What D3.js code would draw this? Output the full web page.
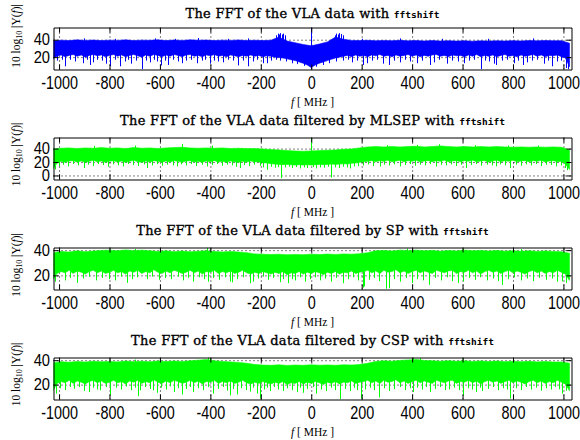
<!DOCTYPE html>
<html>
<head>
<meta charset="utf-8">
<script src="https://cdn.jsdelivr.net/npm/d3@7"></script>
<style>
  body { margin: 0; background: #fff; }
  svg { display: block; }
</style>
</head>
<body>
<svg id="fig" width="580" height="440"></svg>
<script>
// ---------------------------------------------------------------
// Spectra of the VLA record (dB), shown as the band of |Y(f)| per
// frequency bin: the top of the band on a 32 MHz grid, the bottom
// of the band on a 16 MHz grid, plus isolated spikes below/above it.
// ---------------------------------------------------------------
const freqLimits = [-1022, 1032];
const xTickValues = [-1000, -800, -600, -400, -200, 0, 200, 400, 600, 800, 1000];
const gridStart = -1024;
const hiStep = 32;
const loStep = 16;

const titleLead = "The FFT of the VLA data";
const titleMethods = [null, "MLSEP", "SP", "CSP"];
const titleTool = "fftshift";

// --- raw VLA data ---
const vlaYLimits = [5.8, 54];
const vlaYTicks = [20, 40];
const vlaHi = [
  38.5, 39.5, 39, 39.8, 39.2, 39.6, 39, 39.5, 39.2, 39.8, 39, 39.5, 39.3, 39.8, 39, 39.6,
  39.2, 39.8, 39.4, 39.6, 39, 39.5, 39.2, 39.7, 39, 39.4, 39, 39.4, 43, 38.5, 36.5, 34.5,
  33, 35, 37.5, 43, 40.5, 39.2, 39, 39.3, 38.8, 39.2, 38.9, 39.3, 38.7, 39, 38.6, 39,
  38.5, 38.9, 38.4, 38.8, 38.3, 38.7, 38.4, 38.8, 38.5, 38.9, 38.6, 39, 38.7, 39.1, 38.8, 38.9,
  36
];
const vlaLo = [
  18, 21, 22.5, 20.5, 22, 23, 21, 22.5, 20, 22, 23, 21.5, 22.5, 20.5, 22, 23,
  21, 22.5, 20.5, 22, 23, 21.5, 20, 22.5, 21, 23, 22, 20.5, 22.5, 21, 23, 22,
  20.5, 22.5, 23, 21, 22, 20.5, 22.5, 21.5, 23, 21, 22, 20.5, 22.5, 21.5, 20.5, 22,
  21, 22.5, 21, 22, 20.5, 21.5, 21, 20, 19.5, 19, 18, 17, 16, 14.5, 13, 11,
  8, 11, 13, 14.5, 16, 17.5, 19, 20, 21, 22, 20.5, 22.5, 21, 22, 20.5, 22.5,
  21.5, 23, 21, 22, 20.5, 22.5, 21, 22, 23, 21, 22.5, 20.5, 22, 21, 22.5, 23,
  21, 22, 20.5, 22.5, 21.5, 22, 20.5, 22.5, 21, 23, 20.5, 22, 21, 22.5, 20.5, 22,
  23, 21, 22, 20.5, 22.5, 21, 22, 23, 21, 22.5, 20.5, 22, 21.5, 22.5, 20.5, 19,
  9
];
const vlaDips = [
  [-1010, 16], [-990, 17], [-975, 9.5], [-955, 17], [-935, 15], [-906, 13], [-890, 17], [-876, 11],
  [-866, 14], [-850, 17], [-830, 16], [-813, 12.5], [-797, 9.5], [-780, 17], [-757, 9.5], [-740, 15],
  [-725, 17], [-714, 12.5], [-695, 16], [-671, 6], [-655, 16], [-641, 14], [-625, 17], [-610, 15],
  [-595, 10.5], [-580, 16], [-566, 11], [-550, 17], [-530, 15], [-513, 13], [-495, 16], [-475, 17],
  [-454, 13], [-435, 16], [-420, 17], [-403, 12.5], [-385, 16], [-370, 15], [-350, 14], [-330, 17],
  [-310, 16], [-290, 10.5], [-270, 16], [-250, 9.5], [-232, 15], [-215, 17], [-191, 13], [-177, 13],
  [-160, 16], [-140, 17], [-122, 16], [-100, 15], [-75, 13], [-55, 12], [-30, 10], [0, 5.8],
  [20, 9], [45, 11], [70, 13], [100, 15], [125, 16], [145, 17], [160, 14], [180, 16],
  [205, 11], [220, 13], [240, 16], [260, 17], [286, 12.5], [310, 11], [330, 16], [352, 14],
  [370, 17], [390, 15], [419, 13], [440, 16], [469, 11], [485, 14], [505, 17], [538, 12.5],
  [560, 16], [580, 15], [604, 13], [625, 16], [645, 17], [673, 6], [690, 16], [705, 15],
  [723, 12.5], [732, 11], [755, 16], [775, 17], [803, 13], [820, 16], [838, 11], [856, 14],
  [875, 16], [895, 17], [922, 12.5], [940, 16], [956, 9.5], [975, 15], [990, 16], [1009, 7.5],
  [1018, 6]
];
const vlaPeaks = [
  [-138, 45], [-133, 47], [-128, 46], [-122, 47.5], [-116, 46], [-110, 47], [-105, 45],
  [94, 45], [100, 47], [106, 46], [112, 47.5], [118, 46.5], [124, 45], [0, 54],
  [-900, 41.5], [-780, 41], [-620, 41.5], [-540, 41], [-450, 42], [-330, 41], [-250, 41.5],
  [200, 41], [350, 41.5], [520, 41], [700, 41], [880, 41.5]
];

// --- filtered by MLSEP ---
const mlsepYLimits = [-6, 56.5];
const mlsepYTicks = [0, 20, 40];
const mlsepHi = [
  39.5, 40.5, 41, 40, 41, 40.5, 41.5, 40.5, 41, 40, 41.5, 40.5, 41, 40, 41, 41.5,
  42, 41, 40.5, 41, 40.5, 41, 40, 40.5, 40, 40, 39.5, 38.5, 38, 37, 36.5, 36,
  36.5, 37, 37.5, 38, 39, 39.5, 41, 42.5, 43, 42.5, 43, 42.5, 43, 43.5, 42.5, 43,
  44, 43, 42.5, 43, 42.5, 43, 42.5, 43, 42.5, 42, 42.5, 42, 42.5, 42, 42.5, 42,
  38
];
const mlsepLo = [
  10, 18, 21, 19.5, 21.5, 22, 20, 21.5, 19.5, 21, 22.5, 20.5, 21.5, 19.5, 21, 22,
  20, 21.5, 19.5, 21, 22.5, 20.5, 19.5, 21.5, 20, 22, 21, 19.5, 21.5, 20, 22, 21,
  19.5, 21.5, 22, 20, 21, 19.5, 21.5, 20.5, 22, 20, 21, 19.5, 21.5, 20.5, 19.5, 21,
  20, 21.5, 20.5, 20, 19, 18.5, 17.5, 17, 16.5, 16, 16.5, 16, 15.5, 16, 15.5, 16,
  15.5, 16, 16.5, 16, 16.5, 17, 16.5, 17, 17.5, 17, 18, 18.5, 19.5, 20.5, 21, 22,
  20.5, 22, 21, 22.5, 20.5, 21.5, 22.5, 20.5, 22, 21, 22.5, 20, 21.5, 22, 20.5, 22,
  21, 22.5, 20.5, 21.5, 22, 20.5, 22, 21, 22.5, 20.5, 21.5, 22, 20, 21.5, 22.5, 20.5,
  22, 21, 22.5, 20.5, 21.5, 22, 20.5, 22, 21, 22.5, 20, 21.5, 22, 20.5, 21, 17,
  9
];
const mlsepDips = [
  [-1018, 9], [-1000, 14], [-985, 16], [-965, 13.5], [-945, 17], [-925, 15], [-903, 11], [-885, 16],
  [-865, 14], [-845, 17], [-825, 15.5], [-805, 13], [-785, 16.5], [-765, 15], [-745, 13.5], [-725, 17],
  [-705, 15.5], [-685, 14], [-665, 16.5], [-651, 11], [-630, 15], [-610, 17], [-590, 14.5], [-570, 16],
  [-550, 15], [-533, 13.5], [-515, 16.5], [-495, 15], [-475, 17], [-455, 14], [-435, 16], [-414, 13.5],
  [-395, 15.5], [-375, 17], [-355, 14.5], [-335, 16], [-315, 15], [-298, 13], [-283, 11], [-265, 15.5],
  [-245, 14], [-225, 16], [-205, 14.5], [-190, 12], [-177, 8.5], [-160, 13], [-145, 11.5], [-130, 12.5],
  [-119, -4], [-105, 12], [-90, 13], [-75, 11], [-60, 12.5], [-45, 10.5], [-30, 12], [-15, 11],
  [5, 12.5], [20, 10.5], [35, 12], [50, 11.5], [65, 13], [78, -3], [95, 12], [110, 11],
  [125, 13], [140, 12], [155, 10.5], [170, 13.5], [185, 14], [205, 15], [225, 16.5], [245, 14],
  [271, 13.5], [290, 16], [310, 15], [330, 16.5], [350, 13.5], [370, 15.5], [390, 17], [410, 14.5],
  [430, 16], [450, 15], [470, 17], [494, 13.5], [515, 16], [535, 15], [555, 16.5], [575, 14],
  [595, 16], [614, 11], [635, 15.5], [655, 17], [675, 14.5], [695, 16], [715, 15], [732, 13.5],
  [750, 16.5], [770, 15], [790, 11], [810, 16], [830, 14.5], [850, 16.5], [870, 15], [890, 17],
  [910, 14], [930, 16], [950, 15.5], [970, 13.5], [990, 15], [1005, 11], [1015, 8]
];
const mlsepPeaks = [
  [0, 56.5], [-513, 47], [-700, 44.5], [-395, 44.5], [-860, 44], [300, 45], [420, 45.5],
  [508, 46.5], [650, 45], [780, 44.5], [900, 44.5]
];

// --- filtered by SP ---
const spYLimits = [8.8, 42.1];
const spYTicks = [20, 40];
const spHi = [
  38, 39, 38.5, 39.5, 38.8, 39.3, 39.8, 40, 39.5, 40.2, 39.6, 40, 39.5, 39, 39.5, 38.8,
  39.3, 38.7, 39.2, 39.5, 39, 38.6, 39, 38.5, 38, 37, 36.8, 36.5, 36.8, 36.3, 36.6, 36.4,
  36.8, 36.5, 36.9, 36.6, 37, 36.8, 37.2, 38, 39.5, 39.8, 39.3, 40, 39.6, 40, 39.5, 39.8,
  39.2, 39.7, 39.4, 40, 39.5, 39.8, 39.3, 39.7, 39.2, 39.6, 39.1, 39.5, 39, 39.4, 39, 38.8,
  37.5
];
const spLo = [
  17, 21.5, 23, 22, 24, 21.5, 23.5, 22.5, 21, 23, 24, 22, 23.5, 21.5, 22.5, 24,
  22, 23, 21, 23.5, 22.5, 24, 21.5, 23, 22, 24.5, 22.5, 21.5, 23.5, 22, 24, 23,
  21.5, 22.5, 24, 22, 23.5, 21, 23, 22.5, 24, 21.5, 23, 22, 23.5, 21.5, 22.5, 24,
  22, 21, 22.5, 21.5, 23, 22, 21, 22.5, 21.5, 23, 20.5, 22, 21.5, 23, 21, 22.5,
  21.5, 23, 22, 20.5, 22.5, 21.5, 23, 21, 22.5, 22, 23.5, 21.5, 22.5, 23, 24, 22,
  23.5, 21.5, 24, 22.5, 23, 24.5, 22, 23.5, 21.5, 23, 24, 22, 23.5, 22.5, 21.5, 24,
  23, 22, 23.5, 24, 21.5, 23, 22.5, 24, 22, 23.5, 21, 23, 24, 22.5, 23.5, 21.5,
  23, 24, 22, 23.5, 22.5, 21, 23, 24, 22, 23.5, 21.5, 23, 22, 24, 22.5, 21,
  16
];
const spDips = [
  [-1015, 15], [-975, 16], [-955, 18], [-930, 14], [-905, 17.5], [-880, 19], [-855, 16], [-830, 18],
  [-800, 17], [-777, 16], [-755, 19], [-731, 14], [-710, 17], [-690, 18.5], [-652, 17], [-630, 19],
  [-605, 16.5], [-580, 18], [-555, 17], [-530, 19], [-508, 16], [-490, 18], [-468, 15], [-445, 18.5],
  [-425, 17], [-409, 15], [-390, 18], [-365, 16.5], [-340, 18.5], [-322, 15], [-316, 14.5], [-295, 17],
  [-270, 18.5], [-243, 13.8], [-231, 15], [-210, 17.5], [-190, 19], [-170, 16.5], [-150, 18], [-125, 14.6],
  [-110, 17], [-93, 13.8], [-75, 17], [-65, 16], [-45, 18.5], [-25, 15], [-5, 17], [15, 18.5],
  [35, 16], [55, 17.5], [80, 15], [100, 18], [125, 13.8], [145, 17], [165, 18.5], [185, 16],
  [204, 10.4], [211, 11.2], [230, 16.5], [250, 18], [270, 15.5], [297, 9.4], [310, 9.9], [330, 17],
  [350, 15], [375, 18], [400, 13.9], [420, 17], [445, 16], [468, 12.5], [490, 18], [515, 16],
  [540, 18.5], [560, 15.5], [580, 14], [600, 15.2], [625, 18], [650, 16.5], [670, 18.5], [695, 16],
  [720, 17.5], [740, 15.5], [758, 12.5], [780, 17], [805, 18.5], [830, 16], [855, 17.5], [880, 15.5],
  [905, 18], [930, 16.5], [955, 17.5], [975, 15], [995, 15.2], [1012, 14]
];
const spPeaks = [
  [-412, 42.1], [-700, 41], [380, 41.2], [600, 41], [830, 40.8]
];

// --- filtered by CSP ---
const cspYLimits = [7.8, 42.2];
const cspYTicks = [20, 40];
const cspHi = [
  38, 38.8, 38.3, 39, 38.5, 39.2, 38.7, 39, 38.6, 39.3, 38.8, 39.2, 38.7, 39.4, 38.9, 39.3,
  39, 39.5, 40, 40.5, 39.5, 39, 38.6, 38.2, 37.5, 36.5, 36, 35.8, 36.2, 35.7, 36, 35.8,
  36.2, 35.9, 36.1, 35.8, 36.2, 36, 36.5, 37.5, 39, 39.5, 39.2, 39.8, 40.2, 40.5, 39.8, 39.5,
  39.2, 39.6, 39.1, 39.5, 39, 39.4, 38.9, 39.3, 38.8, 39.2, 38.7, 39.1, 38.6, 39, 38.5, 38.6,
  37.5
];
const cspLo = [
  15, 21, 22.5, 21.5, 23.5, 21, 23, 22, 20.5, 22.5, 23.5, 21.5, 23, 21, 22, 23.5,
  21.5, 22.5, 20.5, 23, 22, 23.5, 21, 22.5, 21.5, 24, 22, 21, 23, 21.5, 23.5, 22.5,
  21, 22, 23.5, 21.5, 23, 20.5, 22.5, 22, 23.5, 21, 22.5, 21.5, 23, 21, 22, 23.5,
  21.5, 20.5, 22, 21, 22.5, 21.5, 20.5, 22, 21, 22.5, 20, 21.5, 21, 22.5, 20.5, 22,
  21, 22.5, 21.5, 20, 22, 21, 22.5, 20.5, 22, 21.5, 23, 21, 22, 22.5, 23.5, 21.5,
  23, 21, 23.5, 22, 22.5, 24, 21.5, 23, 21, 22.5, 23.5, 21.5, 23, 22, 21, 23.5,
  22.5, 21.5, 23, 23.5, 21, 22.5, 22, 23.5, 21.5, 23, 20.5, 22.5, 23.5, 22, 23, 21,
  22.5, 23.5, 21.5, 23, 22, 20.5, 22.5, 23.5, 21.5, 23, 21, 22.5, 21.5, 23.5, 22, 20.5,
  15
];
const cspDips = [
  [-1014, 12.6], [-995, 17], [-975, 15.5], [-958, 18], [-942, 16.7], [-920, 18], [-902, 14.7], [-882, 13.9],
  [-865, 17.5], [-849, 16.1], [-836, 15.3], [-815, 18], [-797, 11.2], [-775, 17.5], [-755, 16], [-735, 18.5],
  [-715, 15.5], [-698, 17.5], [-685, 10.5], [-678, 15.3], [-660, 18], [-640, 16.5], [-626, 15.3], [-612, 13.3],
  [-595, 17.5], [-575, 16], [-560, 18.5], [-546, 13.9], [-530, 17], [-513, 11.9], [-495, 16.5], [-480, 18],
  [-467, 13.9], [-450, 17], [-430, 15.5], [-410, 18], [-388, 12.6], [-370, 16.5], [-350, 18], [-335, 15],
  [-322, 11.2], [-310, 16.5], [-296, 11.9], [-280, 17], [-260, 15.5], [-243, 14.2], [-230, 17.5], [-217, 12.6],
  [-204, 8.5], [-188, 16], [-175, 17.5], [-164, 14.7], [-148, 18], [-130, 16], [-111, 14.7], [-95, 17],
  [-78, 15.5], [-58, 13.9], [-45, 17.5], [-32, 13.3], [-15, 16.5], [5, 18], [20, 12.6], [38, 16],
  [60, 14.7], [78, 17.5], [95, 15.5], [116, 8], [135, 16.5], [152, 14.7], [170, 17.5], [183, 15.5],
  [196, 8.5], [215, 16], [232, 17.5], [250, 15.5], [268, 9.5], [290, 17], [310, 14.7], [330, 16.5],
  [350, 18], [370, 15.5], [390, 17], [403, 13.9], [420, 17.5], [440, 16], [455, 18], [469, 13.9],
  [490, 16.5], [510, 18], [530, 15.5], [548, 16.1], [565, 17.5], [585, 15.5], [600, 11.2], [620, 17],
  [638, 16], [653, 13.9], [668, 17.5], [679, 14.7], [700, 16.5], [720, 18], [740, 15.5], [760, 17],
  [775, 16], [790, 8.5], [810, 17], [830, 15.5], [850, 18], [870, 16], [890, 17.5], [910, 15],
  [930, 17], [950, 16], [968, 18], [983, 16.1], [996, 12.6], [1012, 15]
];
const cspPeaks = [
  [-410, 42.2], [-400, 41.5], [405, 42.2], [430, 41.5], [-700, 40.5], [600, 40.8]
];

// ---------------------------------------------------------------
const panels = [
  { yLimits: vlaYLimits, yTicks: vlaYTicks, hi: vlaHi, lo: vlaLo, dips: vlaDips, peaks: vlaPeaks, color: "#0000ff" },
  { yLimits: mlsepYLimits, yTicks: mlsepYTicks, hi: mlsepHi, lo: mlsepLo, dips: mlsepDips, peaks: mlsepPeaks, color: "#00ff00" },
  { yLimits: spYLimits, yTicks: spYTicks, hi: spHi, lo: spLo, dips: spDips, peaks: spPeaks, color: "#00ff00" },
  { yLimits: cspYLimits, yTicks: cspYTicks, hi: cspHi, lo: cspLo, dips: cspDips, peaks: cspPeaks, color: "#00ff00" }
];

const plotLeft = 53.5, plotRight = 571.5, plotHeight = 42;
const panelTops = [27.5, 137.5, 247.5, 357.5];
const titleBaselines = [18.3, 125, 235, 345];
const yLabelShift = [-12.5, -4, -3.5, -4];
const serif = "'DejaVu Serif', 'Liberation Serif', serif";
const tickFont = "'Liberation Sans', Arial, sans-serif";

const svg = d3.select("#fig");
const x = d3.scaleLinear().domain(freqLimits).range([plotLeft, plotRight]);
const px = f => Math.round(x(f)) + 0.5;

panels.forEach((p, k) => {
  const top = panelTops[k];
  const bottom = top + plotHeight;
  const y = d3.scaleLinear().domain(p.yLimits).range([bottom, top]);
  const g = svg.append("g");

  const clipId = "clip" + k;
  g.append("clipPath").attr("id", clipId)
    .append("rect").attr("x", plotLeft).attr("y", top)
    .attr("width", plotRight - plotLeft).attr("height", plotHeight);

  // dotted grid
  const gridStyle = sel => {
    sel.select(".domain").remove();
    sel.selectAll("line").attr("stroke", "#000").attr("stroke-dasharray", "1,3");
  };
  g.append("g").attr("transform", `translate(0,${bottom})`)
    .call(d3.axisBottom(x).tickValues(xTickValues).tickSize(-plotHeight).tickFormat(""))
    .call(gridStyle);
  g.append("g").attr("transform", `translate(${plotLeft},0)`)
    .call(d3.axisLeft(y).tickValues(p.yTicks).tickSize(-(plotRight - plotLeft)).tickFormat(""))
    .call(gridStyle);

  // spectrum band
  const hiPts = p.hi.map((v, i) => [gridStart + i * hiStep, v]);
  const loPts = p.lo.map((v, i) => [gridStart + i * loStep, v]);
  const hiAt = d3.scaleLinear().domain(hiPts.map(d => d[0])).range(hiPts.map(d => d[1]));
  const loAt = d3.scaleLinear().domain(loPts.map(d => d[0])).range(loPts.map(d => d[1]));
  const outline = hiPts.concat(loPts.slice().reverse());
  const plot = g.append("g").attr("clip-path", `url(#${clipId})`);
  plot.append("path")
    .attr("d", d3.line().x(d => x(d[0])).y(d => y(d[1]))(outline) + "Z")
    .attr("fill", p.color).attr("stroke", p.color).attr("stroke-width", 0.6);

  plot.selectAll("line.dip").data(p.dips).join("line").attr("class", "dip")
    .attr("x1", d => px(d[0])).attr("x2", d => px(d[0]))
    .attr("y1", d => y(loAt(d[0]) + 1.5)).attr("y2", d => y(d[1]))
    .attr("stroke", p.color).attr("stroke-width", 1);
  plot.selectAll("line.peak").data(p.peaks).join("line").attr("class", "peak")
    .attr("x1", d => px(d[0])).attr("x2", d => px(d[0]))
    .attr("y1", d => y(hiAt(d[0]) - 1.5)).attr("y2", d => y(d[1]))
    .attr("stroke", p.color).attr("stroke-width", 1);

  // axes box with inward ticks
  const styleTicks = (size, sx) => sel => {
    sel.selectAll("text").attr("font-family", tickFont).attr("font-size", size)
      .attr("fill", "#000").attr("transform", `scale(${sx},1)`);
  };
  g.append("g").attr("transform", `translate(0,${bottom})`)
    .call(d3.axisBottom(x).tickValues(xTickValues).tickSizeInner(-5).tickSizeOuter(0)
      .tickPadding(6.5).tickFormat(d => String(d)))
    .call(styleTicks(18, 0.8));
  g.append("g").attr("transform", `translate(0,${top})`)
    .call(d3.axisTop(x).tickValues(xTickValues).tickSizeInner(-5).tickSizeOuter(0).tickFormat(""));
  g.append("g").attr("transform", `translate(${plotLeft},0)`)
    .call(d3.axisLeft(y).tickValues(p.yTicks).tickSizeInner(-5).tickSizeOuter(0)
      .tickPadding(3.5).tickFormat(d => String(d)))
    .call(styleTicks(16, 0.92))
    .call(sel => sel.selectAll("text").attr("x", -3.5 / 0.92));
  g.append("g").attr("transform", `translate(${plotRight},0)`)
    .call(d3.axisRight(y).tickValues(p.yTicks).tickSizeInner(-5).tickSizeOuter(0).tickFormat(""));

  // title (regular serif, lightly emboldened with a thin outline)
  const title = svg.append("text")
    .attr("x", (plotLeft + plotRight) / 2).attr("y", titleBaselines[k])
    .attr("text-anchor", "middle").attr("font-family", serif)
    .attr("font-size", 13).attr("letter-spacing", 0.3).attr("fill", "#000")
    .attr("stroke", "#000").attr("stroke-width", 0.35);
  title.append("tspan").text(titleLead);
  if (titleMethods[k]) title.append("tspan").text(" filtered by " + titleMethods[k]);
  title.append("tspan").text(" with ");
  title.append("tspan").attr("font-family", "'DejaVu Sans Mono', 'Liberation Mono', monospace")
    .attr("font-weight", "bold").attr("letter-spacing", 0).attr("stroke-width", 0)
    .attr("font-size", 9.5).text(titleTool);

  // y label: 10 log10 |Y(f)|
  const yl = svg.append("text")
    .attr("transform", `translate(19.5,${(top + bottom) / 2 + yLabelShift[k]}) rotate(-90)`)
    .attr("text-anchor", "middle").attr("font-family", "'Liberation Serif', serif")
    .attr("font-size", 11.5).attr("fill", "#000");
  yl.append("tspan").text("10 log");
  yl.append("tspan").attr("font-size", 8).attr("dy", 2.5).text("10");
  yl.append("tspan").attr("dy", -2.5).text(" |Y(");
  yl.append("tspan").attr("font-style", "italic").text("f");
  yl.append("tspan").text(")|");

  // x label: f [MHz]
  const xl = svg.append("text")
    .attr("x", (plotLeft + plotRight) / 2).attr("y", bottom + 36)
    .attr("text-anchor", "middle").attr("font-family", "'Liberation Serif', serif")
    .attr("font-size", 11.5).attr("fill", "#000");
  xl.append("tspan").attr("font-style", "italic").text("f");
  xl.append("tspan").text(" [ MHz ]");
});
</script>
</body>
</html>
